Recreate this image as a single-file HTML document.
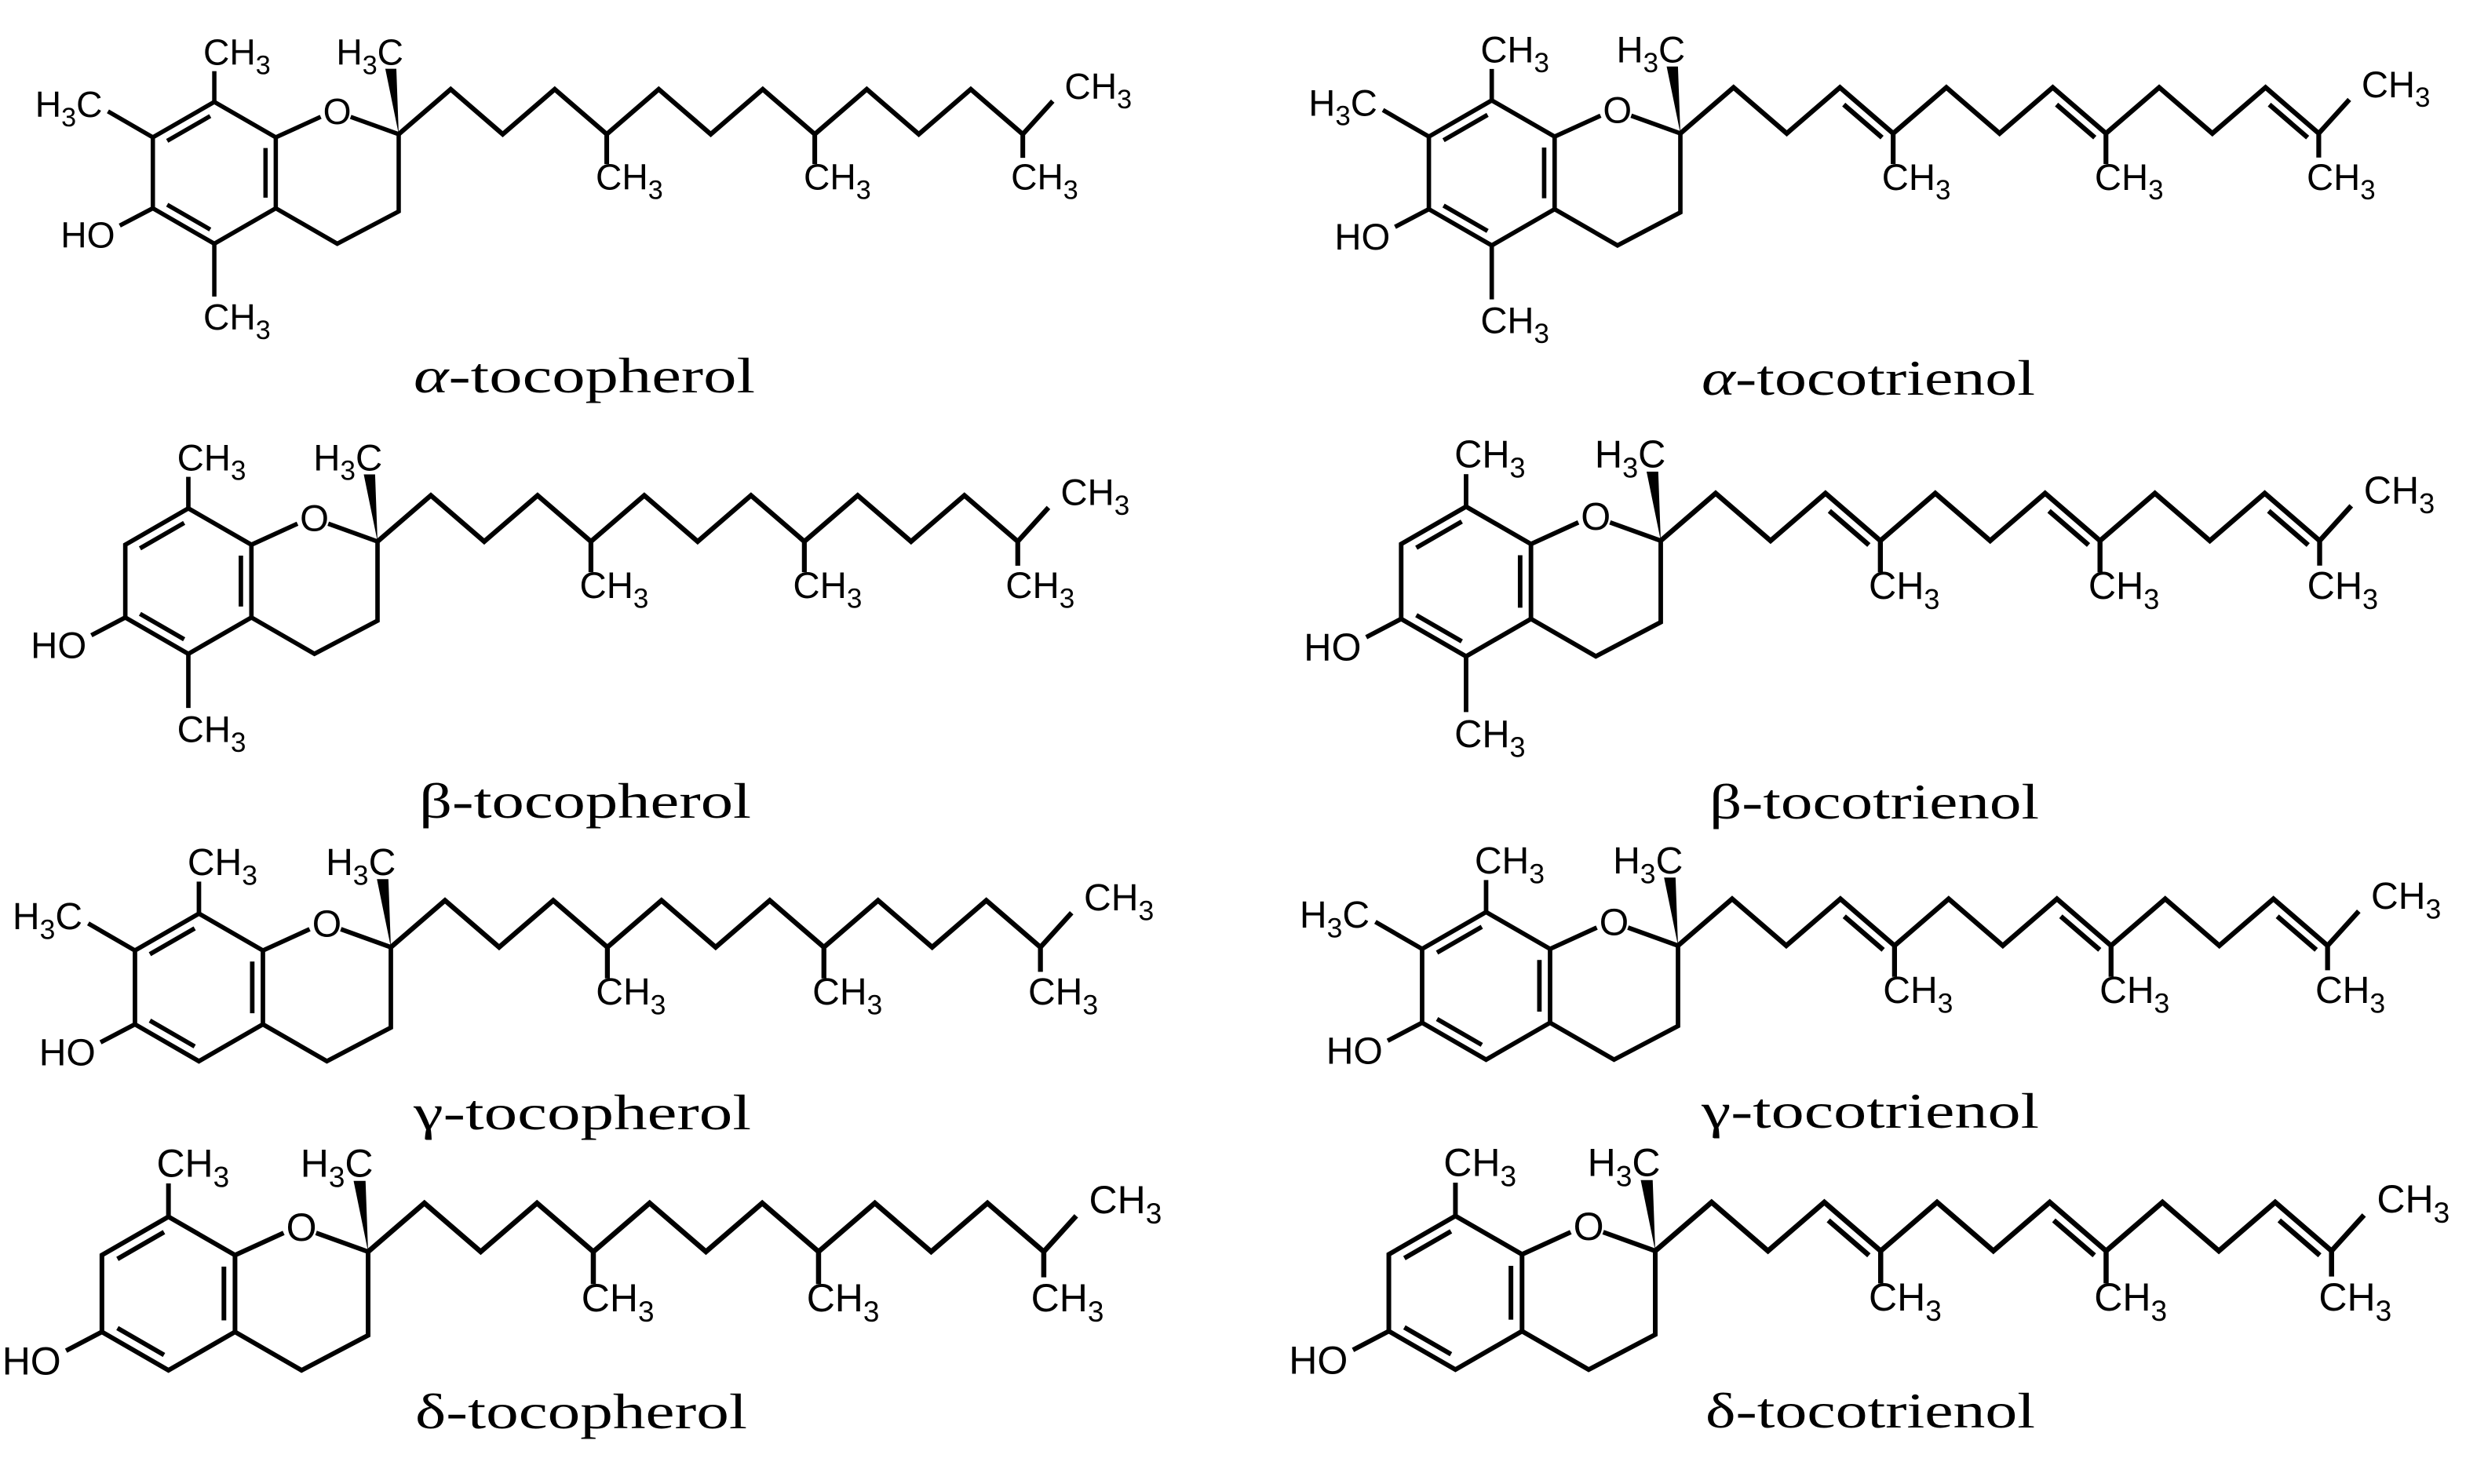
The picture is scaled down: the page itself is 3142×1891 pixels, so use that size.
<!DOCTYPE html>
<html><head><meta charset="utf-8"><style>
html,body{margin:0;padding:0;background:#fff;}
svg{display:block;}
.lab{font-family:"Liberation Sans Narrow","Liberation Sans",sans-serif;font-size:46px;fill:#000;}
.sub{font-size:34px;}
.ttl{font-family:"Liberation Serif",serif;font-size:64px;fill:#000;}
</style></head><body>
<svg width="3142" height="1891" viewBox="0 0 3142 1891" xmlns="http://www.w3.org/2000/svg">
<defs>
<g id="core" fill="none" stroke="#000" stroke-width="5.5" stroke-linejoin="miter">
<path d="M-156,4 L-234,-41 L-312,4 L-312,94 L-234,139 L-156,94 Z"/>
<path d="M-156,94 L-78,139 L0,98 L0,0 M-156,4 L-99,-22 M-61,-22 L0,0"/>
<path d="M-239.2,-23 L-293.8,8.5 M-293.8,89.5 L-239.2,121 M-169,17.5 V80.5"/>
<polygon points="0,0 -3,-83 -17,-83" fill="#000" stroke="none"/>
</g>
<path id="m8" d="M-234,-41 V-80" stroke="#000" stroke-width="5.5"/>
<path id="m7" d="M-312,4 L-369,-29" stroke="#000" stroke-width="5.5"/>
<path id="oh" d="M-312,94 L-354,116" stroke="#000" stroke-width="5.5"/>
<path id="m5" d="M-234,139 V206" stroke="#000" stroke-width="5.5"/>
<path id="sat" fill="none" stroke="#000" stroke-width="6" d="M0,0 L66,-57 L132,0 L198,-57 L264,0 L330,-57 L396,0 L462,-57 L528,0 L594,-57 L660,0 L726,-57 L792,0 L830,-42 M264,0 V38 M528,0 V38 M792,0 V30"/>
<g id="tri" fill="none" stroke="#000" stroke-width="6">
<use href="#sat"/>
<path d="M202.7,-35.8 L250.2,5.2 M466.7,-35.8 L514.2,5.2 M730.7,-35.8 L778.2,5.2"/>
</g>
</defs>

<!-- alpha-tocopherol -->
<g transform="translate(508,171) scale(1.004)">
<use href="#core"/><use href="#m8"/><use href="#m7"/><use href="#oh"/><use href="#m5"/><use href="#sat"/>
<text class="lab" x="-248" y="-88">CH<tspan class="sub" dy="12">3</tspan></text>
<text class="lab" x="-376" y="-22" text-anchor="end">H<tspan class="sub" dy="12">3</tspan><tspan dy="-12">C</tspan></text>
<text class="lab" x="-360" y="144" text-anchor="end">HO</text>
<text class="lab" x="-248" y="248">CH<tspan class="sub" dy="12">3</tspan></text>
<text class="lab" x="6" y="-88" text-anchor="end">H<tspan class="sub" dy="12">3</tspan><tspan dy="-12">C</tspan></text>
<text class="lab" x="-96" y="-13">O</text>
<text class="lab" x="250" y="70">CH<tspan class="sub" dy="12">3</tspan></text>
<text class="lab" x="514" y="70">CH<tspan class="sub" dy="12">3</tspan></text>
<text class="lab" x="777" y="70">CH<tspan class="sub" dy="12">3</tspan></text>
<text class="lab" x="845" y="-45">CH<tspan class="sub" dy="12">3</tspan></text>
</g>
<text class="ttl" x="527" y="500" textLength="435" lengthAdjust="spacingAndGlyphs"><tspan font-style="italic">α</tspan>-tocopherol</text>

<!-- beta-tocopherol -->
<g transform="translate(481,690) scale(1.03)">
<use href="#core"/><use href="#m8"/><use href="#oh"/><use href="#m5"/><use href="#sat"/>
<text class="lab" x="-248" y="-88">CH<tspan class="sub" dy="12">3</tspan></text>
<text class="lab" x="-360" y="144" text-anchor="end">HO</text>
<text class="lab" x="-248" y="248">CH<tspan class="sub" dy="12">3</tspan></text>
<text class="lab" x="6" y="-88" text-anchor="end">H<tspan class="sub" dy="12">3</tspan><tspan dy="-12">C</tspan></text>
<text class="lab" x="-96" y="-13">O</text>
<text class="lab" x="250" y="70">CH<tspan class="sub" dy="12">3</tspan></text>
<text class="lab" x="514" y="70">CH<tspan class="sub" dy="12">3</tspan></text>
<text class="lab" x="777" y="70">CH<tspan class="sub" dy="12">3</tspan></text>
<text class="lab" x="845" y="-45">CH<tspan class="sub" dy="12">3</tspan></text>
</g>
<text class="ttl" x="534" y="1042" textLength="423" lengthAdjust="spacingAndGlyphs">β-tocopherol</text>

<!-- gamma-tocopherol -->
<g transform="translate(498,1207) scale(1.045)">
<use href="#core"/><use href="#m8"/><use href="#m7"/><use href="#oh"/><use href="#sat"/>
<text class="lab" x="-248" y="-88">CH<tspan class="sub" dy="12">3</tspan></text>
<text class="lab" x="-376" y="-22" text-anchor="end">H<tspan class="sub" dy="12">3</tspan><tspan dy="-12">C</tspan></text>
<text class="lab" x="-360" y="144" text-anchor="end">HO</text>
<text class="lab" x="6" y="-88" text-anchor="end">H<tspan class="sub" dy="12">3</tspan><tspan dy="-12">C</tspan></text>
<text class="lab" x="-96" y="-13">O</text>
<text class="lab" x="250" y="70">CH<tspan class="sub" dy="12">3</tspan></text>
<text class="lab" x="514" y="70">CH<tspan class="sub" dy="12">3</tspan></text>
<text class="lab" x="777" y="70">CH<tspan class="sub" dy="12">3</tspan></text>
<text class="lab" x="845" y="-45">CH<tspan class="sub" dy="12">3</tspan></text>
</g>
<text class="ttl" x="527" y="1439" textLength="430" lengthAdjust="spacingAndGlyphs">γ-tocopherol</text>

<!-- delta-tocopherol -->
<g transform="translate(469,1595) scale(1.087)">
<use href="#core"/><use href="#m8"/><use href="#oh"/><use href="#sat"/>
<text class="lab" x="-248" y="-88">CH<tspan class="sub" dy="12">3</tspan></text>
<text class="lab" x="-360" y="144" text-anchor="end">HO</text>
<text class="lab" x="6" y="-88" text-anchor="end">H<tspan class="sub" dy="12">3</tspan><tspan dy="-12">C</tspan></text>
<text class="lab" x="-96" y="-13">O</text>
<text class="lab" x="250" y="70">CH<tspan class="sub" dy="12">3</tspan></text>
<text class="lab" x="514" y="70">CH<tspan class="sub" dy="12">3</tspan></text>
<text class="lab" x="777" y="70">CH<tspan class="sub" dy="12">3</tspan></text>
<text class="lab" x="845" y="-45">CH<tspan class="sub" dy="12">3</tspan></text>
</g>
<text class="ttl" x="529" y="1820" textLength="423" lengthAdjust="spacingAndGlyphs">δ-tocopherol</text>

<!-- alpha-tocotrienol -->
<g transform="translate(2141,170) scale(1.027)">
<use href="#core"/><use href="#m8"/><use href="#m7"/><use href="#oh"/><use href="#m5"/><use href="#tri"/>
<text class="lab" x="-248" y="-88">CH<tspan class="sub" dy="12">3</tspan></text>
<text class="lab" x="-376" y="-22" text-anchor="end">H<tspan class="sub" dy="12">3</tspan><tspan dy="-12">C</tspan></text>
<text class="lab" x="-360" y="144" text-anchor="end">HO</text>
<text class="lab" x="-248" y="248">CH<tspan class="sub" dy="12">3</tspan></text>
<text class="lab" x="6" y="-88" text-anchor="end">H<tspan class="sub" dy="12">3</tspan><tspan dy="-12">C</tspan></text>
<text class="lab" x="-96" y="-13">O</text>
<text class="lab" x="250" y="70">CH<tspan class="sub" dy="12">3</tspan></text>
<text class="lab" x="514" y="70">CH<tspan class="sub" dy="12">3</tspan></text>
<text class="lab" x="777" y="70">CH<tspan class="sub" dy="12">3</tspan></text>
<text class="lab" x="845" y="-45">CH<tspan class="sub" dy="12">3</tspan></text>
</g>
<text class="ttl" x="2168" y="503" textLength="425" lengthAdjust="spacingAndGlyphs"><tspan font-style="italic">α</tspan>-tocotrienol</text>

<!-- beta-tocotrienol -->
<g transform="translate(2116,689) scale(1.06)">
<use href="#core"/><use href="#m8"/><use href="#oh"/><use href="#m5"/><use href="#tri"/>
<text class="lab" x="-248" y="-88">CH<tspan class="sub" dy="12">3</tspan></text>
<text class="lab" x="-360" y="144" text-anchor="end">HO</text>
<text class="lab" x="-248" y="248">CH<tspan class="sub" dy="12">3</tspan></text>
<text class="lab" x="6" y="-88" text-anchor="end">H<tspan class="sub" dy="12">3</tspan><tspan dy="-12">C</tspan></text>
<text class="lab" x="-96" y="-13">O</text>
<text class="lab" x="250" y="70">CH<tspan class="sub" dy="12">3</tspan></text>
<text class="lab" x="514" y="70">CH<tspan class="sub" dy="12">3</tspan></text>
<text class="lab" x="777" y="70">CH<tspan class="sub" dy="12">3</tspan></text>
<text class="lab" x="845" y="-45">CH<tspan class="sub" dy="12">3</tspan></text>
</g>
<text class="ttl" x="2178" y="1043" textLength="420" lengthAdjust="spacingAndGlyphs">β-tocotrienol</text>

<!-- gamma-tocotrienol -->
<g transform="translate(2138,1205) scale(1.045)">
<use href="#core"/><use href="#m8"/><use href="#m7"/><use href="#oh"/><use href="#tri"/>
<text class="lab" x="-248" y="-88">CH<tspan class="sub" dy="12">3</tspan></text>
<text class="lab" x="-376" y="-22" text-anchor="end">H<tspan class="sub" dy="12">3</tspan><tspan dy="-12">C</tspan></text>
<text class="lab" x="-360" y="144" text-anchor="end">HO</text>
<text class="lab" x="6" y="-88" text-anchor="end">H<tspan class="sub" dy="12">3</tspan><tspan dy="-12">C</tspan></text>
<text class="lab" x="-96" y="-13">O</text>
<text class="lab" x="250" y="70">CH<tspan class="sub" dy="12">3</tspan></text>
<text class="lab" x="514" y="70">CH<tspan class="sub" dy="12">3</tspan></text>
<text class="lab" x="777" y="70">CH<tspan class="sub" dy="12">3</tspan></text>
<text class="lab" x="845" y="-45">CH<tspan class="sub" dy="12">3</tspan></text>
</g>
<text class="ttl" x="2168" y="1437" textLength="430" lengthAdjust="spacingAndGlyphs">γ-tocotrienol</text>

<!-- delta-tocotrienol -->
<g transform="translate(2109,1594) scale(1.088)">
<use href="#core"/><use href="#m8"/><use href="#oh"/><use href="#tri"/>
<text class="lab" x="-248" y="-88">CH<tspan class="sub" dy="12">3</tspan></text>
<text class="lab" x="-360" y="144" text-anchor="end">HO</text>
<text class="lab" x="6" y="-88" text-anchor="end">H<tspan class="sub" dy="12">3</tspan><tspan dy="-12">C</tspan></text>
<text class="lab" x="-96" y="-13">O</text>
<text class="lab" x="250" y="70">CH<tspan class="sub" dy="12">3</tspan></text>
<text class="lab" x="514" y="70">CH<tspan class="sub" dy="12">3</tspan></text>
<text class="lab" x="777" y="70">CH<tspan class="sub" dy="12">3</tspan></text>
<text class="lab" x="845" y="-45">CH<tspan class="sub" dy="12">3</tspan></text>
</g>
<text class="ttl" x="2173" y="1819" textLength="420" lengthAdjust="spacingAndGlyphs">δ-tocotrienol</text>
</svg>
</body></html>
